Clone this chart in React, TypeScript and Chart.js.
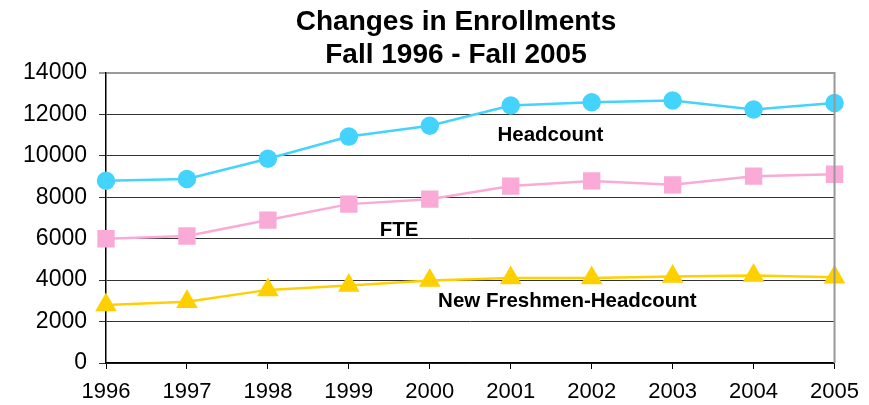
import React, { useEffect, useRef } from "react";
import { Chart, registerables } from "chart.js";

Chart.register(...registerables);

const years = ["1996", "1997", "1998", "1999", "2000", "2001", "2002", "2003", "2004", "2005"];
const headcount = [8800, 8880, 9860, 10930, 11450, 12430, 12590, 12670, 12240, 12550];
const fte = [6000, 6130, 6900, 7670, 7910, 8540, 8790, 8600, 9020, 9110];
const freshmen = [2800, 2960, 3530, 3740, 3980, 4100, 4100, 4170, 4220, 4140];
const yTicks = [0, 2000, 4000, 6000, 8000, 10000, 12000, 14000];
const titleLines = ["Changes in Enrollments", "Fall 1996 - Fall 2005"];
const seriesNames = ["Headcount", "FTE", "New Freshmen-Headcount"];
// label anchor positions in data units: [category index, value]
const labelAnchors: [number, number][] = [
  [5.49, 11000],
  [3.62, 6420],
  [5.7, 2960],
];

const FONT = '"Liberation Sans", Arial, sans-serif';

export default function App() {
  const ref = useRef<HTMLCanvasElement | null>(null);

  useEffect(() => {
    if (!ref.current) return;
    const textPlugin = {
      id: "textPlugin",
      afterDraw(chart: any) {
        const ctx = chart.ctx;
        const { chartArea } = chart;
        const xs = chart.scales.x;
        const ys = chart.scales.y;
        ctx.save();
        // right border
        ctx.strokeStyle = "#999";
        ctx.lineWidth = 2;
        ctx.beginPath();
        ctx.moveTo(chartArea.right, chartArea.top - 1);
        ctx.lineTo(chartArea.right, chartArea.bottom);
        ctx.stroke();
        // title
        ctx.fillStyle = "#000";
        ctx.textAlign = "center";
        ctx.textBaseline = "alphabetic";
        ctx.font = `bold 28px ${FONT}`;
        ctx.fillText(titleLines[0], 456, 30);
        ctx.fillText(titleLines[1], 456, 62.5);
        // series labels
        ctx.font = `bold 20.5px ${FONT}`;
        ctx.textBaseline = "middle";
        seriesNames.forEach((name, i) => {
          const [xi, yv] = labelAnchors[i];
          ctx.fillText(name, xs.getPixelForValue(xi), ys.getPixelForValue(yv));
        });
        ctx.restore();
      },
    };

    const chart = new Chart(ref.current, {
      type: "line",
      data: {
        labels: years,
        datasets: [
          {
            label: seriesNames[0],
            data: headcount,
            borderColor: "#44D3FC",
            backgroundColor: "#44D3FC",
            pointStyle: "circle",
            pointRadius: 8,
            borderWidth: 2.5,
            clip: false as any,
          },
          {
            label: seriesNames[1],
            data: fte,
            borderColor: "#FAAAD6",
            backgroundColor: "#FAAAD6",
            pointStyle: "rect",
            pointRadius: 10.5,
            borderWidth: 2.5,
            clip: false as any,
          },
          {
            label: seriesNames[2],
            data: freshmen,
            borderColor: "#FFD000",
            backgroundColor: "#FFD000",
            pointStyle: "triangle",
            pointRadius: 10,
            borderWidth: 2.5,
            clip: false as any,
          },
        ],
      },
      options: {
        responsive: false,
        animation: false,
        layout: { padding: { left: 0, top: 73, right: 33, bottom: 0 } },
        plugins: {
          legend: { display: false },
          tooltip: { enabled: false },
          title: { display: false },
        },
        elements: {
          line: { tension: 0 },
          point: { borderWidth: 0 },
        },
        scales: {
          x: {
            type: "category",
            offset: false,
            grid: {
              drawOnChartArea: false,
              drawTicks: true,
              tickLength: 6,
              color: "#000",
            },
            border: { color: "#000", width: 1.5 },
            ticks: {
              color: "#000",
              font: { family: FONT, size: 22 },
              padding: 10,
              maxRotation: 0,
              autoSkip: false,
            },
            afterFit(scale: any) {
              scale.height = 42;
            },
          },
          y: {
            min: 0,
            max: 14000,
            afterBuildTicks(scale: any) {
              scale.ticks = yTicks.map((v) => ({ value: v }));
            },
            grid: {
              color: (c: any) => (c.tick && c.tick.value === 14000 ? "#999" : "#333"),
              lineWidth: (c: any) => (c.tick && c.tick.value === 14000 ? 2 : 1),
              tickLength: 7,
              drawTicks: true,
            },
            border: { color: "#000", width: 1.5 },
            ticks: {
              color: "#000",
              font: { family: FONT, size: 23 },
              padding: 12,
              callback: (v: any) => String(v),
            },
            afterFit(scale: any) {
              scale.width = 106;
            },
          },
        },
      },
      plugins: [textPlugin],
    });
    return () => chart.destroy();
  }, []);

  return (
    <div style={{ position: "fixed", left: 0, top: 0, width: 869, height: 405, background: "#fff" }}>
      <canvas ref={ref} width={869} height={405} style={{ width: 869, height: 405, display: "block" }} />
    </div>
  );
}
